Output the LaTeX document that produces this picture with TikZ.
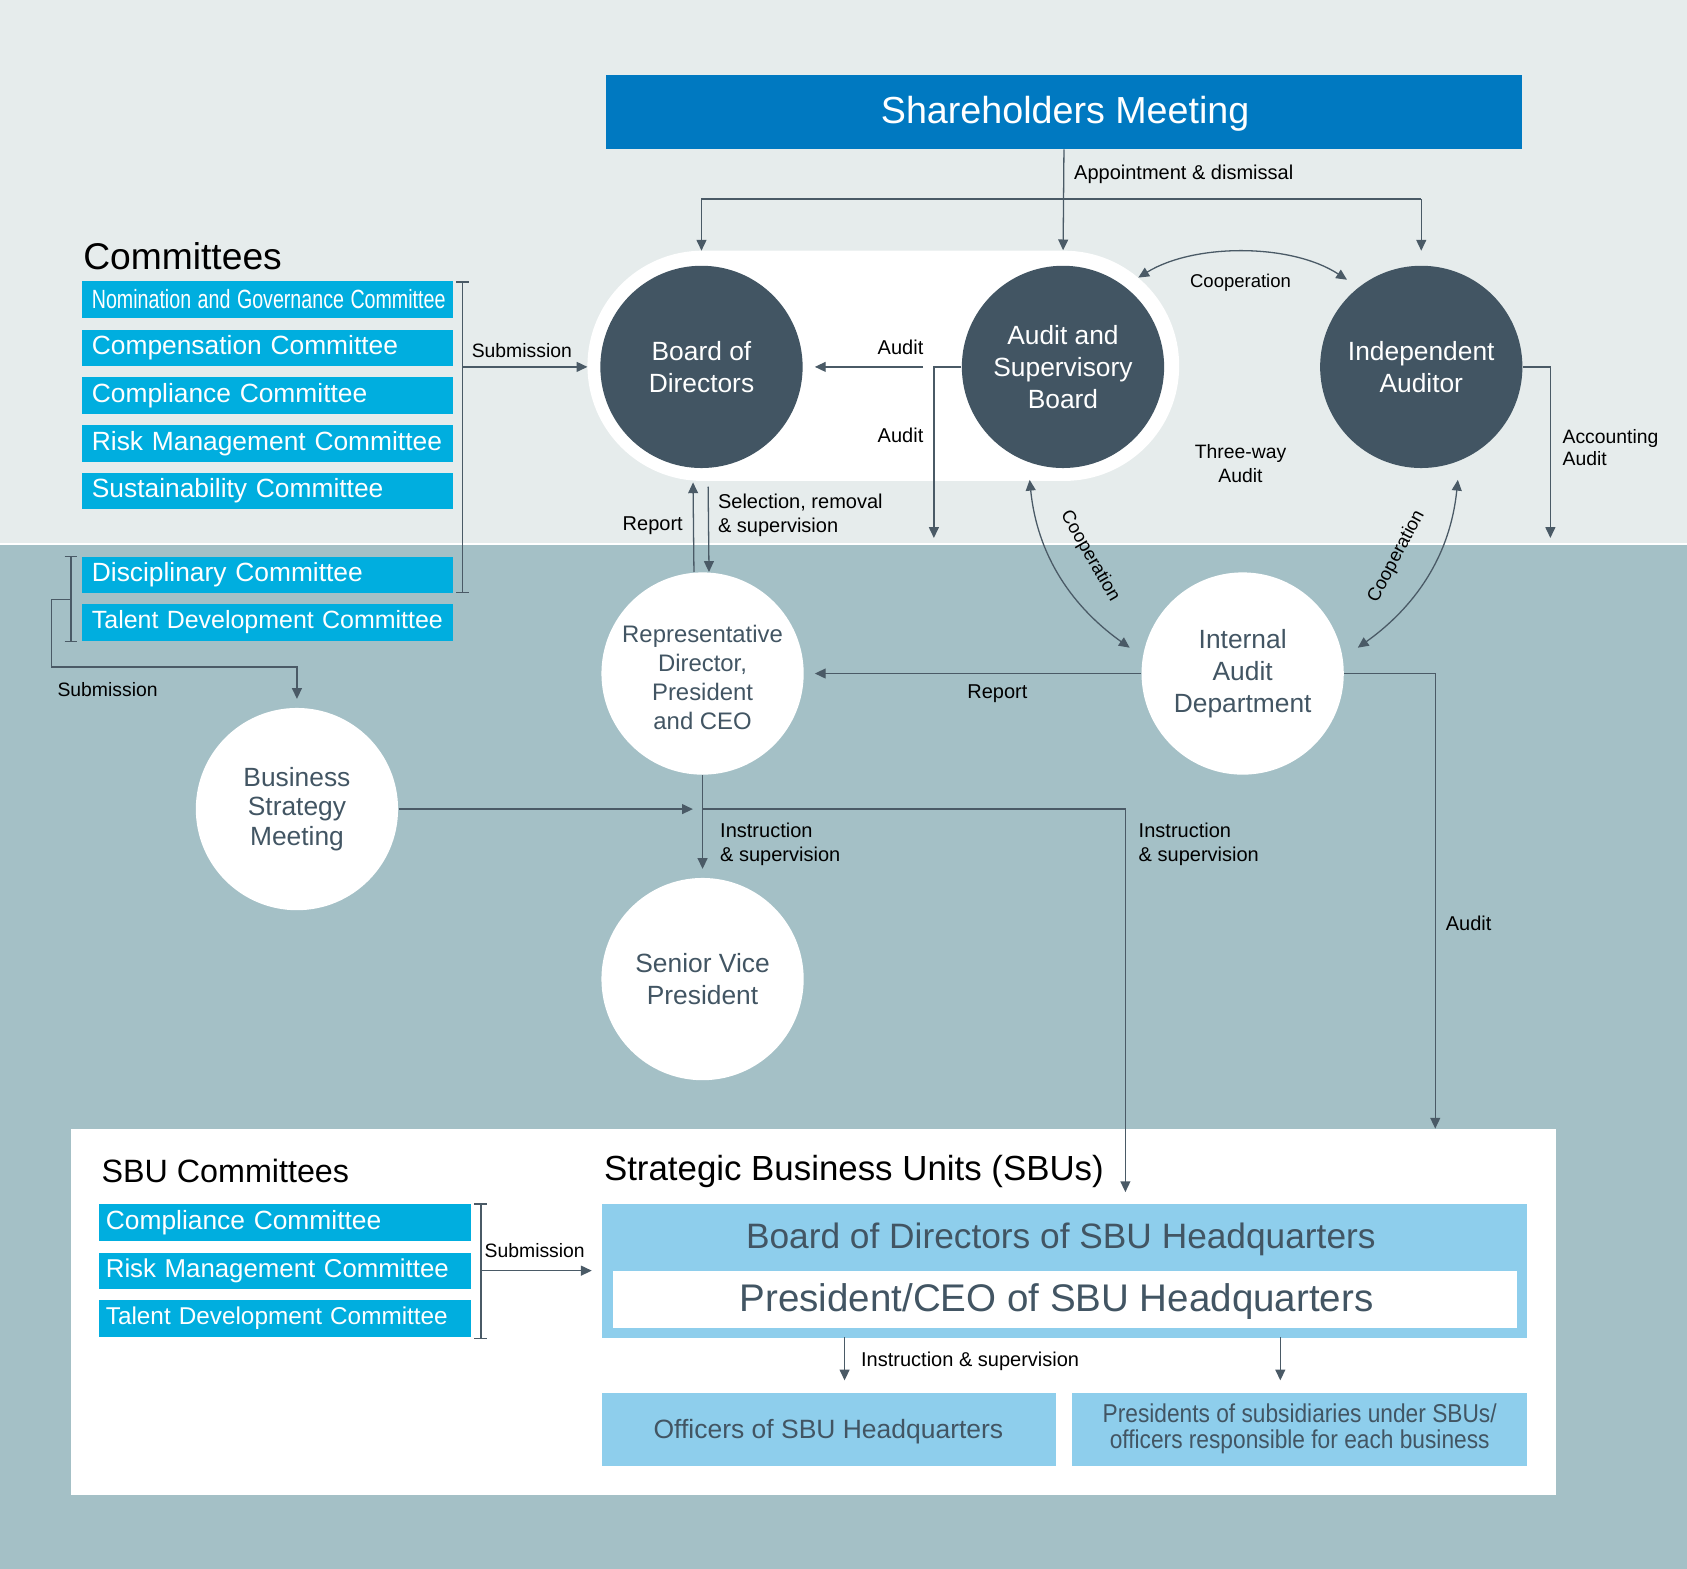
\documentclass[tikz,border=0pt]{standalone}
\usepackage{graphicx}
\usepackage{fontspec}
\setmainfont{Liberation Sans}
\newfontfamily\narrowB[FakeStretch=0.88]{Liberation Sans}
\usetikzlibrary{arrows.meta}
\definecolor{topbg}{HTML}{E6ECEC}
\definecolor{botbg}{HTML}{A4C0C6}
\definecolor{smblue}{HTML}{0079C1}
\definecolor{cyanbox}{HTML}{00AEDF}
\definecolor{darkc}{HTML}{425563}
\definecolor{lblue}{HTML}{8ECEEC}
\definecolor{linec}{HTML}{4A5A66}
\newcommand{\fs}[2]{\fontsize{#1}{#2}\selectfont}
\begin{document}
\begin{tikzpicture}[x=0.5pt,y=-0.5pt,
 every node/.style={inner sep=0pt},
 dcirc/.style={circle, fill=darkc, text=white, minimum size=94pt, align=center, font=\fs{12.25}{15}},
 wcirc/.style={circle, fill=white, text=darkc, minimum size=94pt, align=center, font=\fs{12.25}{14}},
 cbox/.style={fill=cyanbox, text=white, anchor=north west, minimum height=17pt, inner xsep=4.5pt, inner ysep=0pt, text width=163.5pt, align=left, font=\fs{12.25}{14}},
 sbox/.style={cbox, inner xsep=3pt, text width=166.5pt},
 lbl/.style={font=\fs{9.3}{11}, text=black},
 ln/.style={draw=linec, line width=0.6pt},
 arr/.style={ln, -{Triangle[length=5pt,width=4.6pt]}},
 darr/.style={ln, {Triangle[length=5pt,width=4.6pt]}-{Triangle[length=5pt,width=4.6pt]}},
 title/.style={anchor=west, text=black},
]
\useasboundingbox (0,0) rectangle (1568,1458);
% backgrounds
\fill[topbg] (0,0) rectangle (1568,505);
\fill[botbg] (0,506.5) rectangle (1568,1458);
\fill[white] (0,505) rectangle (1568,506.5);
% pill
\fill[white, rounded corners=53.5pt] (546,233) rectangle (1096,447);

% shareholders
\node[fill=smblue, anchor=north west, minimum width=425.5pt, minimum height=34.5pt] (sm) at (563,69) {};
\node[text=white, font=\fs{17.5}{20}] (smt) at (990,106) {Shareholders Meeting};

% dark circles
\node[dcirc] (bod) at (652,341) {Board of\\Directors};
\node[dcirc] (asb) at (988,341) {Audit and\\Supervisory\\Board};
\node[dcirc] (ia) at (1321,341) {Independent\\Auditor};
% white circles
\node[wcirc] (rd) at (653,626) {};
\node[text=darkc, align=center, font=\fs{11.1}{13.5}] (rdt) at (653,630) {Representative\\Director,\\President\\and CEO};
\node[wcirc, font=\fs{12.25}{15}] (iad) at (1155,626) {Internal\\Audit\\Department};
\node[wcirc, font=\fs{12.25}{13.75}] (bsm) at (276,752) {Business\\Strategy\\Meeting};
\node[wcirc, font=\fs{12.25}{14.5}] (svp) at (653,910) {Senior Vice\\President};

% committees
\node[title, font=\fs{17.3}{20}] (ctitle) at (77,238) {Committees};
\node[cbox] (c1) at (76,261) {\mbox{\scalebox{0.745}[1]{Nomination and Governance Committee}}};
\node[cbox] (c2) at (76,306) {Compensation Committee};
\node[cbox] (c3) at (76,350) {Compliance Committee};
\node[cbox] (c4) at (76,395) {Risk Management Committee};
\node[cbox] (c5) at (76,439) {Sustainability Committee};
\node[cbox] (c6) at (76,517) {Disciplinary Committee};
\node[cbox, font=\fs{11.6}{14}] (c7) at (76,561) {\mbox{Talent Development Committee}};

% SBU area
\node[fill=white, anchor=north west, minimum width=690pt, minimum height=170pt] (sbu) at (66,1049) {};
\node[title, font=\fs{15}{18}] (stitle) at (94,1088) {SBU Committees};
\node[title, font=\fs{16.2}{19}] (utitle) at (561,1089) {Strategic Business Units (SBUs)};
\node[sbox] (s1) at (92,1119) {Compliance Committee};
\node[sbox, font=\fs{12}{14}] (s2) at (92,1164) {Risk Management Committee};
\node[sbox, font=\fs{11.3}{14}] (s3) at (92,1208) {\mbox{Talent Development Committee}};
\node[fill=lblue, anchor=north west, minimum width=430pt, minimum height=62pt] (hq) at (559,1119) {};
\node[text=darkc, font=\fs{16.4}{19}] (hqbd) at (986,1152) {Board of Directors of SBU Headquarters};
\node[fill=white, anchor=north west, minimum width=420.5pt, minimum height=26.5pt] (ceo) at (569,1181) {};
\node[text=darkc, font=\fs{17.9}{21}] (ceot) at (982,1210) {President/CEO of SBU Headquarters};
\node[fill=lblue, anchor=north west, minimum width=211pt, minimum height=34pt] (off) at (559,1294) {};
\node[text=darkc, font=\fs{12.3}{14}] (offt) at (770,1331) {Officers of SBU Headquarters};
\node[fill=lblue, anchor=north west, minimum width=211.5pt, minimum height=34pt] (pres) at (996,1294) {};
\node[text=darkc, align=center, font=\narrowB\fs{12}{12.5}] (prest) at (1208,1328) {Presidents of subsidiaries under SBUs/\\officers responsible for each business};

% coordinates
\coordinate (apL) at (652,185);
\coordinate (apR) at (1321,185);
\coordinate (auS) at (858,341);
\coordinate (asbK) at (868,341);
\coordinate (asbD) at (868,500);
\coordinate (accK) at (1441,341);
\coordinate (accD) at (1441,500);
\coordinate (brT) at (430,262);
\coordinate (brB) at (430,551);
\coordinate (brM) at (430,341);
\coordinate (pillW) at (546,341);
\coordinate (b2T) at (66,517);
\coordinate (b2B) at (66,596);
\coordinate (b2M) at (66,557);
\coordinate (junc) at (653,752);
\coordinate (insK) at (1046,752);
\coordinate (insD) at (1046,1108);
\coordinate (audK) at (1334,626);
\coordinate (audD) at (1334,1049);
\coordinate (sbT) at (447,1119);
\coordinate (sbB) at (447,1244);
\coordinate (sbM) at (447,1181);
\coordinate (hqW) at (550,1181);
\coordinate (hq1) at (785,1243);
\coordinate (hq2) at (1190,1243);
\coordinate (coA) at (1058,258);
\coordinate (coB) at (1252,260);
\coordinate (coC) at (957,446);
\coordinate (coD) at (1050,602);
\coordinate (coE) at (1355,446);
\coordinate (coF) at (1262,602);

% appointment & dismissal
\draw[arr, shorten >=7pt] (sm.south) -- (asb.north);
\draw[ln] (apL) -- (apR);
\draw[arr] (apL) -- (652,233);
\draw[arr] (apR) -- (1321,233);
\node[lbl, anchor=west] at (998,162) {Appointment \& dismissal};

% cooperation arcs
\draw[darr] (coA) .. controls (1110,226) and (1200,226) .. (coB);
\node[lbl, font=\fs{8.6}{10}] at (1153,263) {Cooperation};
\draw[darr] (coC) .. controls (965,525) and (1005,570) .. (coD);
\node[lbl, font=\fs{8.6}{10}, rotate=-60] at (1013,517) {Cooperation};
\draw[darr] (coE) .. controls (1347,525) and (1307,570) .. (coF);
\node[lbl, font=\fs{8.6}{10}, rotate=62] at (1298,517) {Cooperation};

% audit lines
\draw[arr, shorten >=5.5pt] (auS) -- (bod.east);
\node[lbl] at (837,323) {Audit};
\draw[arr] (asb.west) -- (asbK) -- (asbD);
\node[lbl] at (837,405) {Audit};
\draw[arr] (ia.east) -- (accK) -- (accD);
\node[lbl, anchor=west, align=left, font=\fs{9}{10.5}] at (1452,416) {Accounting\\Audit};
\node[lbl, align=center, font=\fs{9}{11}] at (1153,431) {Three-way\\Audit};

% committees submission
\draw[ln] ([xshift=-3pt]brT) -- ([xshift=3pt]brT) (brT) -- (brB) ([xshift=-3pt]brB) -- ([xshift=3pt]brB);
\draw[arr] (brM) -- (pillW);
\node[lbl, font=\fs{9}{11}] at (485,326) {Submission};
\draw[ln] ([xshift=-3pt]b2T) -- ([xshift=3pt]b2T) (b2T) -- (b2B) ([xshift=-3pt]b2B) -- ([xshift=3pt]b2B);
\draw[arr, shorten >=4pt] (b2M) -- (48,557) -- (48,620) -- (276,620) -- (bsm.north);
\node[lbl, font=\fs{9}{11}] at (100,641) {Submission};

% report / selection
\draw[arr, shorten >=6.5pt] ([xshift=-4pt]rd.north) -- ([xshift=-4pt]bod.south);
\draw[arr, shorten <=8.5pt] ([xshift=3pt]bod.south) -- ([xshift=3pt]rd.north);
\node[lbl, anchor=east] at (635,489) {Report};
\node[lbl, anchor=west, align=left] at (667,479) {Selection, removal\\\& supervision};

% internal audit
\draw[arr, shorten >=5pt] (iad.west) -- (rd.east);
\node[lbl] at (927,645) {Report};
\draw[arr] (iad.east) -- (audK) -- (audD);
\node[lbl] at (1365,858) {Audit};

% business strategy & CEO
\draw[arr, shorten >=4.5pt] (bsm.east) -- (junc);
\draw[arr, shorten >=4pt] (rd.south) -- (svp.north);
\node[lbl, anchor=west, align=left] at (669,785) {Instruction\\\& supervision};
\draw[arr] (junc) -- (insK) -- (insD);
\node[lbl, anchor=west, align=left] at (1058,785) {Instruction\\\& supervision};

% SBU submission & instruction
\draw[ln] ([xshift=-3pt]sbT) -- ([xshift=3pt]sbT) (sbT) -- (sbB) ([xshift=-3pt]sbB) -- ([xshift=3pt]sbB);
\draw[arr] (sbM) -- (hqW);
\node[lbl, font=\fs{9}{11}] at (497,1162) {Submission};
\draw[arr] (hq1) -- (785,1283);
\draw[arr] (hq2) -- (1190,1283);
\node[lbl, anchor=west] at (800,1265) {Instruction \& supervision};
\end{tikzpicture}
\end{document}
